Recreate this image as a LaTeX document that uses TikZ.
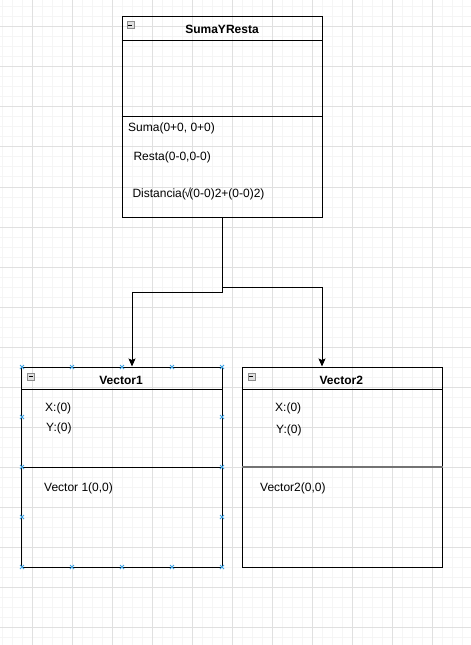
\documentclass[tikz,border=0pt]{standalone}
\usepackage{fontspec}
\setmainfont{Liberation Sans}
\usepackage{tikz}
\usetikzlibrary{arrows.meta,calc}
\definecolor{handleblue}{HTML}{3AA2E6}
\tikzstyle{classbox} = [rectangle, minimum width=200bp, minimum height=200bp, inner sep=0pt, draw=black, line width=1bp]
\tikzstyle{title} = [font=\fontsize{12bp}{14bp}\selectfont\bfseries, anchor=base, inner sep=0pt]
\tikzstyle{member} = [font=\fontsize{12bp}{14bp}\selectfont, anchor=base west, inner sep=0pt]
\tikzstyle{collapse} = [rectangle, minimum size=7bp, inner sep=0pt, draw=black!45, fill=black!12, anchor=north west]
\tikzstyle{arrow} = [line width=1bp, -{Stealth[length=8bp, width=7bp, inset=1.5bp]}]
\tikzstyle{minorgrid} = [draw=black!4, line width=1bp]
\tikzstyle{majorgrid} = [draw=black!12, line width=1bp]

\begin{document}
\begin{tikzpicture}[x=1bp, y=-1bp]

    \useasboundingbox (0,0) rectangle (471,645);
    \fill[white] (0,0) rectangle (471,645);

    % grid
    \foreach \x in {2,12,...,472} \draw[minorgrid] (\x,0) -- (\x,645);
    \foreach \y in {7,17,...,647} \draw[minorgrid] (0,\y) -- (471,\y);
    \foreach \x in {32,72,...,432} \draw[majorgrid] (\x,0) -- (\x,645);
    \foreach \y in {27,67,...,627} \draw[majorgrid] (0,\y) -- (471,\y);

    \node (suma_resta) [classbox] at (222,117) {};

    \node (vector1) [classbox] at (122,467) {};

    \node (vector2) [classbox] at (342,467) {};

    \draw[line width=1bp] ([yshift=-24bp]suma_resta.north west) -- ([yshift=-24bp]suma_resta.north east);

    \draw[line width=1bp] (suma_resta.west) -- (suma_resta.east);

    \draw[line width=1bp] ([yshift=-23bp]vector1.north west) -- ([yshift=-23bp]vector1.north east);

    \draw[line width=1bp] (vector1.west) -- (vector1.east);

    \draw[line width=1bp] ([yshift=-23bp]vector2.north west) -- ([yshift=-23bp]vector2.north east);

    \draw[line width=1.6bp, black!55] (vector2.west) -- (vector2.east);

    \node (suma_icon) [collapse] at ([xshift=5bp, yshift=-5bp]suma_resta.north west) {};
    \node (vector1_icon) [collapse] at ([xshift=6bp, yshift=-6bp]vector1.north west) {};
    \node (vector2_icon) [collapse] at ([xshift=6bp, yshift=-6bp]vector2.north west) {};

    \foreach \icon in {suma_icon, vector1_icon, vector2_icon}
        \draw[line width=1bp] ([xshift=1.5bp]\icon.west) -- ([xshift=-1.5bp]\icon.east);

    \node (suma_title) [title] at (222,34) {SumaYResta};

    \node (suma_op) [member] at (128,132) {Suma(0+0, 0+0)};

    \node (resta_op) [member] at (133.3,161) {Resta(0-0,0-0)};

    \node (distancia_op) [member] at (132.3,197) {Distancia(\kern-1.5bp√\kern-1.5bp(0-0)2+(0-0)2)};

    \node (vector1_title) [title] at (121,384) {Vector1};

    \node (vector1_x) [member] at (45,411.5) {X:(0)};

    \node (vector1_y) [member] at (46,431.5) {Y:(0)};

    \node (vector1_op) [member] at (44,491.5) {Vector 1(0,0)};

    \node (vector2_title) [title] at (341.3,384) {Vector2};

    \node (vector2_x) [member] at (275,411.5) {X:(0)};

    \node (vector2_y) [member] at (276,433) {Y:(0)};

    \node (vector2_op) [member] at (260,491.5) {Vector2(0,0)};

    \draw [arrow] (suma_resta.south) -- ++(0,75) -| ([xshift=10bp]vector1.north);

    \draw [arrow] (suma_resta.south) -- ++(0,70) -| ([xshift=-20bp]vector2.north);

    % selection handles
    \foreach \x in {22,72,122,172,222}
        \foreach \y in {367,567}
            \draw[handleblue, line width=0.8bp] (\x-2,\y-2) -- (\x+2,\y+2) (\x-2,\y+2) -- (\x+2,\y-2);
    \foreach \x in {22,222}
        \foreach \y in {417,467,517}
            \draw[handleblue, line width=0.8bp] (\x-2,\y-2) -- (\x+2,\y+2) (\x-2,\y+2) -- (\x+2,\y-2);

\end{tikzpicture}
\end{document}
